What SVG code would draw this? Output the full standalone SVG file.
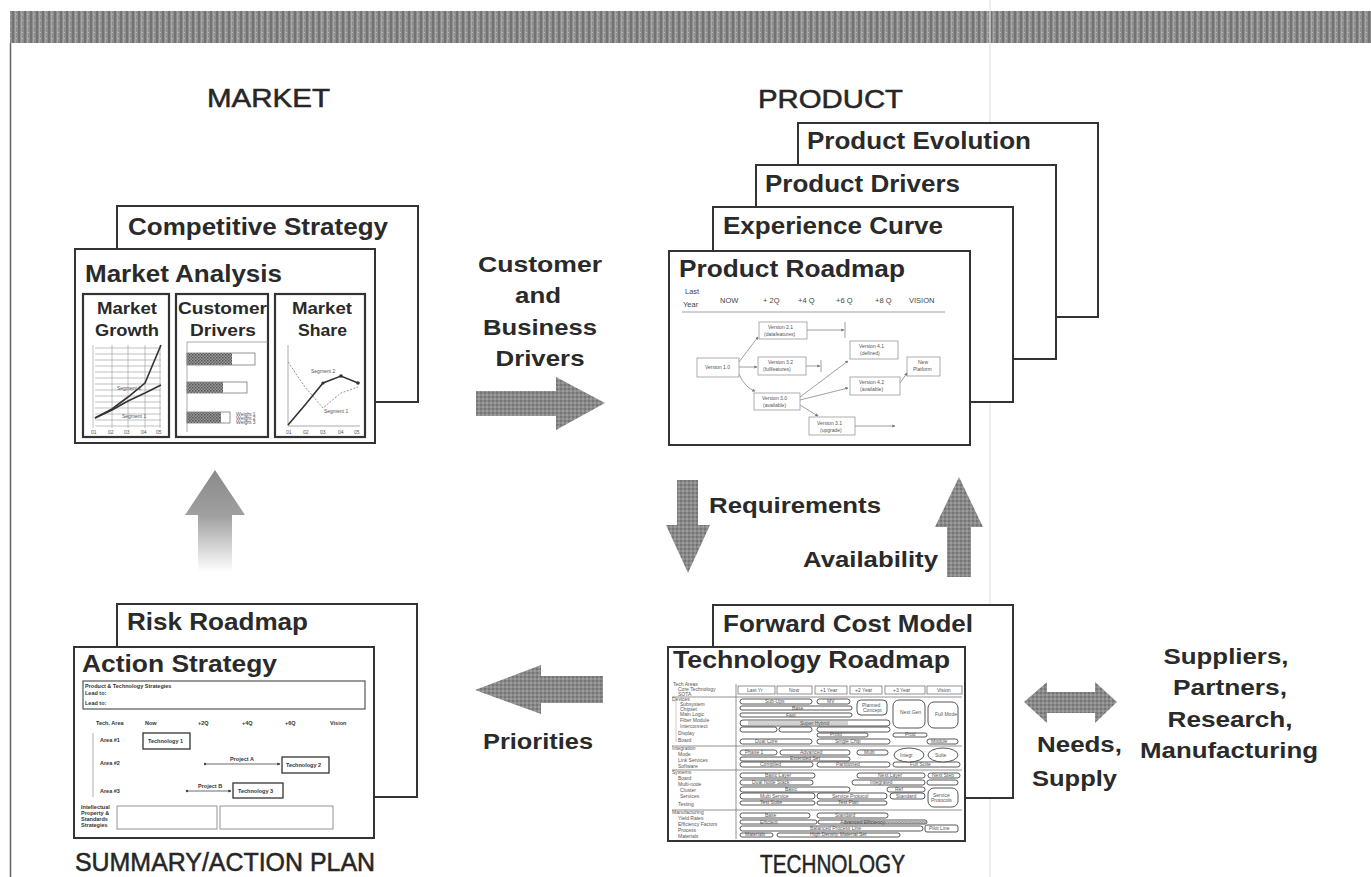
<svg xmlns="http://www.w3.org/2000/svg" width="1371" height="877" viewBox="0 0 1371 877">
  <style>
    .sec{font-family:"Liberation Sans",Arial,sans-serif;font-size:25px;fill:#262626;stroke:#262626;stroke-width:0.5}
    .h{font-family:"Liberation Sans",Arial,sans-serif;font-weight:bold;font-size:24px;fill:#2a2a2a}
    .sub{font-family:"Liberation Sans",Arial,sans-serif;font-weight:bold;font-size:17px;fill:#2a2a2a}
    .lbl{font-family:"Liberation Sans",Arial,sans-serif;font-weight:bold;font-size:22px;fill:#2a2a2a}
    .tiny{font-family:"Liberation Sans",Arial,sans-serif;font-size:5px;fill:#555}
    .sm{font-family:"Liberation Sans",Arial,sans-serif;font-size:7.5px;fill:#444}
    .smb{font-family:"Liberation Sans",Arial,sans-serif;font-size:5.5px;font-weight:bold;fill:#333}
    .card{fill:#fff;stroke:#333;stroke-width:2}
    .inner{fill:#fff;stroke:#333;stroke-width:2.2}
    .thin{fill:none;stroke:#777;stroke-width:0.8}
    .vbox{fill:#fff;stroke:#999;stroke-width:0.8}
    .bar{fill:#fff;stroke:#444;stroke-width:0.9}
    .grid{stroke:#999;stroke-width:0.6}
    .arrow{fill:url(#halftone)}
  </style>
  <defs>
    <pattern id="stripes" width="6" height="6" patternUnits="userSpaceOnUse">
      <rect width="6" height="6" fill="#8d8d8d"/>
      <rect x="0" width="2" height="6" fill="#737373"/>
      <rect x="3" width="1" height="6" fill="#a6a6a6"/>
      <rect x="4" y="2" width="1" height="1" fill="#bcbcbc"/>
    </pattern>
    <pattern id="halftone" width="4" height="4" patternUnits="userSpaceOnUse">
      <rect width="4" height="4" fill="#8a8a8a"/>
      <rect x="0" y="0" width="2" height="2" fill="#757575"/>
      <rect x="2" y="2" width="2" height="2" fill="#9c9c9c"/>
    </pattern>
    <pattern id="checker" width="3" height="3" patternUnits="userSpaceOnUse">
      <rect width="3" height="3" fill="#9a9a9a"/>
      <rect width="1.5" height="1.5" fill="#555"/>
      <rect x="1.5" y="1.5" width="1.5" height="1.5" fill="#666"/>
    </pattern>
    <linearGradient id="fadeUp" x1="0" y1="0" x2="0" y2="1">
      <stop offset="0" stop-color="#8a8a8a"/>
      <stop offset="0.45" stop-color="#a0a0a0"/>
      <stop offset="1" stop-color="#ffffff"/>
    </linearGradient>
    <marker id="tip" viewBox="0 0 6 6" refX="5" refY="3" markerWidth="4" markerHeight="4" orient="auto">
      <path d="M0,0 L6,3 L0,6 z" fill="#777"/>
    </marker>
    <marker id="tipDark" viewBox="0 0 6 6" refX="5" refY="3" markerWidth="4" markerHeight="4" orient="auto">
      <path d="M0,0 L6,3 L0,6 z" fill="#333"/>
    </marker>
  </defs>

  <rect width="1371" height="877" fill="#fff"/>
  <!-- page frame -->
  <rect x="10" y="11" width="1361" height="32" fill="url(#stripes)"/>
  <line x1="10.5" y1="43" x2="10.5" y2="877" stroke="#666" stroke-width="1.5"/>
  <line x1="990" y1="0" x2="990" y2="877" stroke="#e2e2e2" stroke-width="1.2"/>

  <!-- ============ MARKET ============ -->
  <g id="market">
    <text class="sec" x="207" y="107" textLength="123" lengthAdjust="spacingAndGlyphs">MARKET</text>
    <rect class="card" x="117" y="206" width="301" height="196"/>
    <text class="h" x="128" y="235" textLength="260" lengthAdjust="spacingAndGlyphs">Competitive Strategy</text>
    <rect class="card" x="75" y="249" width="300" height="194"/>
    <text class="h" x="85" y="282" font-size="25" textLength="197" lengthAdjust="spacingAndGlyphs">Market Analysis</text>

    <!-- Market Growth -->
    <rect class="inner" x="83" y="294" width="86" height="143"/>
    <text class="sub" x="97" y="314" textLength="60" lengthAdjust="spacingAndGlyphs">Market</text>
    <text class="sub" x="95" y="336" textLength="64" lengthAdjust="spacingAndGlyphs">Growth</text>
    <g class="grid">
      <line x1="93" y1="345" x2="93" y2="428"/>
      <line x1="95" y1="348" x2="161" y2="348"/><line x1="95" y1="354" x2="161" y2="354"/>
      <line x1="95" y1="360" x2="161" y2="360"/><line x1="95" y1="366" x2="161" y2="366"/>
      <line x1="95" y1="372" x2="161" y2="372"/><line x1="95" y1="378" x2="161" y2="378"/>
      <line x1="95" y1="384" x2="161" y2="384"/><line x1="95" y1="390" x2="161" y2="390"/>
      <line x1="95" y1="396" x2="161" y2="396"/><line x1="95" y1="402" x2="161" y2="402"/>
      <line x1="95" y1="408" x2="161" y2="408"/><line x1="95" y1="414" x2="161" y2="414"/>
      <line x1="95" y1="420" x2="161" y2="420"/><line x1="95" y1="426" x2="161" y2="426"/>
      <line x1="112" y1="345" x2="112" y2="428"/><line x1="128" y1="345" x2="128" y2="428"/>
      <line x1="145" y1="345" x2="145" y2="428"/><line x1="160" y1="345" x2="160" y2="428"/>
    </g>
    <polyline points="95,418 112,409 128,397 145,383 161,345" fill="none" stroke="#333" stroke-width="1.6"/>
    <polyline points="95,418 112,410 128,401 145,393 161,385" fill="none" stroke="#333" stroke-width="1.6"/>
    <text class="tiny" x="117" y="390">Segment 2</text>
    <text class="tiny" x="122" y="418">Segment 1</text>
    <text class="tiny" x="91" y="434">01</text><text class="tiny" x="108" y="434">02</text>
    <text class="tiny" x="124" y="434">03</text><text class="tiny" x="141" y="434">04</text>
    <text class="tiny" x="156" y="434">05</text>

    <!-- Customer Drivers -->
    <rect class="inner" x="176" y="294" width="92" height="143"/>
    <text class="sub" x="178" y="314" textLength="89" lengthAdjust="spacingAndGlyphs">Customer</text>
    <text class="sub" x="190" y="336" textLength="66" lengthAdjust="spacingAndGlyphs">Drivers</text>
    <line x1="187" y1="342" x2="268" y2="342" stroke="#888" stroke-width="0.7"/>
    <line x1="187" y1="342" x2="187" y2="432" stroke="#888" stroke-width="0.7"/>
    <rect x="187" y="353" width="68" height="12" fill="#fff" stroke="#666" stroke-width="0.7"/>
    <rect x="187" y="353" width="45" height="12" fill="url(#checker)"/>
    <rect x="187" y="382" width="60" height="11" fill="#fff" stroke="#666" stroke-width="0.7"/>
    <rect x="187" y="382" width="36" height="11" fill="url(#checker)"/>
    <rect x="187" y="412" width="43" height="11" fill="#fff" stroke="#666" stroke-width="0.7"/>
    <rect x="187" y="412" width="34" height="11" fill="url(#checker)"/>
    <text class="tiny" x="236" y="416" font-size="4">Weight 1</text>
    <text class="tiny" x="236" y="420" font-size="4">Weight 2</text>
    <text class="tiny" x="236" y="424" font-size="4">Weight 3</text>

    <!-- Market Share -->
    <rect class="inner" x="275" y="294" width="90" height="143"/>
    <text class="sub" x="292" y="314" textLength="60" lengthAdjust="spacingAndGlyphs">Market</text>
    <text class="sub" x="298" y="336" textLength="49" lengthAdjust="spacingAndGlyphs">Share</text>
    <line x1="288" y1="345" x2="288" y2="426" stroke="#888" stroke-width="0.7"/>
    <line x1="288" y1="426" x2="360" y2="426" stroke="#888" stroke-width="0.7"/>
    <polyline points="288,362 305,387 323,408 341,393 358,387" fill="none" stroke="#888" stroke-width="0.9" stroke-dasharray="2,1.5"/>
    <polyline points="288,425 305,405 323,383 341,376 358,383" fill="none" stroke="#333" stroke-width="1.6"/>
    <circle cx="323" cy="383" r="1.6" fill="#333"/><circle cx="341" cy="376" r="1.8" fill="#333"/>
    <circle cx="358" cy="383" r="1.8" fill="#333"/>
    <text class="tiny" x="311" y="373">Segment 2</text>
    <text class="tiny" x="324" y="413">Segment 1</text>
    <text class="tiny" x="286" y="434">01</text><text class="tiny" x="303" y="434">02</text>
    <text class="tiny" x="320" y="434">03</text><text class="tiny" x="338" y="434">04</text>
    <text class="tiny" x="354" y="434">05</text>
  </g>

  <!-- ============ PRODUCT ============ -->
  <g id="product">
    <text class="sec" x="758" y="108" textLength="145" lengthAdjust="spacingAndGlyphs">PRODUCT</text>
    <rect class="card" x="798" y="123" width="300" height="194"/>
    <text class="h" x="807" y="149" textLength="224" lengthAdjust="spacingAndGlyphs">Product Evolution</text>
    <rect class="card" x="756" y="165" width="300" height="194"/>
    <text class="h" x="765" y="192" textLength="195" lengthAdjust="spacingAndGlyphs">Product Drivers</text>
    <rect class="card" x="713" y="207" width="300" height="195"/>
    <text class="h" x="723" y="234" textLength="220" lengthAdjust="spacingAndGlyphs">Experience Curve</text>
    <rect class="card" x="669" y="251" width="301" height="194"/>
    <text class="h" x="679" y="277" textLength="226" lengthAdjust="spacingAndGlyphs">Product Roadmap</text>

    <!-- roadmap header -->
    <text class="sm" x="685" y="294">Last</text>
    <text class="sm" x="683" y="307">Year</text>
    <text class="sm" x="720" y="303">NOW</text>
    <text class="sm" x="763" y="303">+ 2Q</text>
    <text class="sm" x="798" y="303">+4 Q</text>
    <text class="sm" x="836" y="303">+6 Q</text>
    <text class="sm" x="875" y="303">+8 Q</text>
    <text class="sm" x="909" y="303">VISION</text>
    <line x1="682" y1="312" x2="945" y2="312" stroke="#888" stroke-width="0.8"/>

    <!-- roadmap version boxes -->
    <rect class="vbox" x="759" y="322" width="48" height="17"/>
    <text class="tiny" x="768" y="329">Version 2.1</text><text class="tiny" x="764" y="336">(datafeatures)</text>
    <rect class="vbox" x="697" y="358" width="42" height="19"/>
    <text class="tiny" x="705" y="369">Version 1.0</text>
    <rect class="vbox" x="758" y="357" width="48" height="18"/>
    <text class="tiny" x="768" y="364">Version 3.2</text><text class="tiny" x="763" y="371">(fullfeatures)</text>
    <rect class="vbox" x="754" y="393" width="46" height="17"/>
    <text class="tiny" x="762" y="400">Version 3.0</text><text class="tiny" x="763" y="407">(available)</text>
    <rect class="vbox" x="809" y="417" width="46" height="18"/>
    <text class="tiny" x="817" y="425">Version 3.1</text><text class="tiny" x="820" y="432">(upgrade)</text>
    <rect class="vbox" x="850" y="341" width="48" height="18"/>
    <text class="tiny" x="859" y="348">Version 4.1</text><text class="tiny" x="860" y="355">(defined)</text>
    <rect class="vbox" x="850" y="377" width="50" height="18"/>
    <text class="tiny" x="859" y="384">Version 4.2</text><text class="tiny" x="860" y="391">(available)</text>
    <rect class="vbox" x="907" y="357" width="33" height="19"/>
    <text class="tiny" x="918" y="364">New</text><text class="tiny" x="913" y="371">Platform</text>
  </g>

  <!-- ============ TECHNOLOGY ============ -->
  <g id="technology">
    <rect class="card" x="713" y="605" width="300" height="193"/>
    <text class="h" x="723" y="632" textLength="250" lengthAdjust="spacingAndGlyphs">Forward Cost Model</text>
    <rect class="card" x="668" y="647" width="297" height="194"/>
    <text class="h" x="673" y="668" font-size="25" textLength="277" lengthAdjust="spacingAndGlyphs">Technology Roadmap</text>

    <!-- table header -->
    <g class="thin">
      <rect x="738" y="686" width="37" height="8"/><rect x="777" y="686" width="35" height="8"/>
      <rect x="815" y="686" width="32" height="8"/><rect x="850" y="686" width="32" height="8"/>
      <rect x="885" y="686" width="40" height="8"/><rect x="927" y="686" width="35" height="8"/>
      <line x1="736" y1="684" x2="736" y2="839"/>
      <line x1="672" y1="697" x2="962" y2="697"/>
      <line x1="672" y1="746" x2="962" y2="746"/>
      <line x1="672" y1="770" x2="962" y2="770"/>
      <line x1="672" y1="810" x2="962" y2="810"/>
    </g>
    <text class="tiny" x="747" y="692">Last Yr</text><text class="tiny" x="789" y="692">Now</text>
    <text class="tiny" x="820" y="692">+1 Year</text><text class="tiny" x="855" y="692">+2 Year</text>
    <text class="tiny" x="893" y="692">+3 Year</text><text class="tiny" x="937" y="692">Vision</text>

    <!-- left labels -->
    <g class="tiny" font-size="4.5">
      <text x="673" y="686">Tech Areas</text><text x="678" y="691">Core Technology</text>
      <text x="678" y="696">SOTA</text><text x="672" y="701">Devices</text>
      <text x="680" y="706">Subsystem</text><text x="680" y="711">Chipset</text>
      <text x="680" y="716">Main Logic</text><text x="680" y="722">Fiber Module</text>
      <text x="680" y="728">Interconnect</text><text x="678" y="735">Display</text>
      <text x="678" y="742">Board</text><text x="672" y="750">Integration</text>
      <text x="678" y="756">Mode</text><text x="678" y="762">Link Services</text>
      <text x="678" y="768">Software</text><text x="672" y="774">Systems</text>
      <text x="678" y="780">Board</text><text x="678" y="786">Multi-node</text>
      <text x="680" y="792">Cluster</text><text x="680" y="798">Services</text>
      <text x="678" y="806">Testing</text><text x="672" y="814">Manufacturing</text>
      <text x="678" y="820">Yield Rates</text><text x="678" y="826">Efficiency Factors</text>
      <text x="678" y="832">Process</text><text x="678" y="838">Materials</text>
    </g>
    <line x1="676" y1="700" x2="676" y2="742" stroke="#aaa" stroke-width="0.6"/>

    <!-- roadmap bars -->
    <g class="bar">
      <rect x="740" y="699" width="72" height="5" rx="2.5"/><rect x="817" y="699" width="33" height="5" rx="2.5"/>
      <rect x="740" y="706" width="112" height="4" rx="2"/>
      <rect x="740" y="713" width="112" height="4" rx="2"/>
      <rect x="740" y="720" width="150" height="6" rx="3"/>
      <rect x="740" y="727" width="37" height="5" rx="2.5"/><rect x="779" y="727" width="33" height="5" rx="2.5"/><rect x="817" y="727" width="73" height="5" rx="2.5"/>
      <rect x="817" y="733" width="51" height="4" rx="2"/><rect x="893" y="733" width="34" height="4" rx="2"/>
      <rect x="740" y="739" width="72" height="5" rx="2.5"/><rect x="817" y="739" width="73" height="5" rx="2.5"/><rect x="927" y="739" width="31" height="5" rx="2.5"/>
      <rect x="740" y="750" width="37" height="5" rx="2.5"/><rect x="780" y="750" width="70" height="5" rx="2.5"/><rect x="857" y="750" width="31" height="5" rx="2.5"/>
      <rect x="740" y="757" width="110" height="4" rx="2"/>
      <rect x="740" y="762" width="73" height="5" rx="2.5"/><rect x="817" y="762" width="73" height="5" rx="2.5"/><rect x="893" y="762" width="67" height="5" rx="2.5"/>
      <rect x="740" y="773" width="75" height="5" rx="2.5"/><rect x="857" y="773" width="68" height="5" rx="2.5"/><rect x="928" y="773" width="32" height="5" rx="2.5"/>
      <rect x="740" y="780" width="73" height="5" rx="2.5"/><rect x="852" y="780" width="73" height="5" rx="2.5"/><rect x="927" y="780" width="31" height="5" rx="2.5"/>
      <rect x="740" y="787" width="110" height="5" rx="2.5"/><rect x="887" y="787" width="38" height="5" rx="2.5"/>
      <rect x="740" y="793" width="75" height="6" rx="3"/><rect x="817" y="793" width="70" height="6" rx="3"/><rect x="890" y="793" width="35" height="6" rx="3"/>
      <rect x="740" y="801" width="75" height="4" rx="2"/><rect x="817" y="801" width="70" height="4" rx="2"/>
      <rect x="740" y="813" width="70" height="5" rx="2.5"/><rect x="817" y="813" width="71" height="5" rx="2.5"/>
      <rect x="740" y="820" width="77" height="4" rx="2"/><rect x="818" y="820" width="109" height="4" rx="2"/>
      <rect x="740" y="826" width="183" height="5" rx="2.5"/><rect x="925" y="825" width="33" height="7" rx="2"/>
      <rect x="740" y="833" width="33" height="4" rx="2"/><rect x="777" y="833" width="123" height="4" rx="2"/>
      <!-- rounded cells in the vision columns -->
      <rect x="857" y="700" width="30" height="15" rx="4"/>
      <rect x="893" y="700" width="32" height="28" rx="6"/>
      <rect x="928" y="702" width="30" height="26" rx="6"/>
      <ellipse cx="909" cy="755" rx="15" ry="7"/>
      <ellipse cx="943" cy="755" rx="15" ry="7"/>
      <rect x="928" y="788" width="30" height="19" rx="6"/>
    </g>
    <rect x="844" y="821" width="83" height="3" fill="url(#checker)" opacity="0.6"/>
    <rect x="748" y="721" width="100" height="4" fill="url(#checker)" opacity="0.35"/>
    <g class="tiny" font-size="4">
      <text x="765" y="703">Sub-Ups</text><text x="827" y="703">MV</text>
      <text x="792" y="710">Base</text><text x="786" y="717">Fast</text>
      <text x="800" y="725">Super Hybrid</text>
      <text x="862" y="707">Planned</text><text x="863" y="712">Concept</text>
      <text x="900" y="714">Next Gen</text><text x="935" y="716">Full Mode</text>
      <text x="830" y="736">Proto</text><text x="905" y="736">Prod</text>
      <text x="755" y="743">Dual Core</text><text x="835" y="743">Single Chip</text><text x="931" y="743">Module</text>
      <text x="745" y="754">Phase 1</text><text x="800" y="754">Advanced</text><text x="864" y="754">Multi</text>
      <text x="900" y="757">Integr.</text><text x="935" y="757">Suite</text>
      <text x="790" y="760">Extended Set</text>
      <text x="760" y="766">Compiled</text><text x="836" y="766">Partitioned</text><text x="910" y="766">Full Suite</text>
      <text x="765" y="777">Basic Layer</text><text x="878" y="777">Next Layer</text><text x="932" y="777">Next Step</text>
      <text x="752" y="784">Dual Node Stack</text><text x="870" y="784">Integrated</text>
      <text x="785" y="791">Basic</text><text x="895" y="791">Ref</text>
      <text x="760" y="798">Multi Service</text><text x="832" y="798">Service Protocol</text><text x="896" y="798">Standard</text>
      <text x="933" y="797">Service</text><text x="931" y="802">Protocols</text>
      <text x="760" y="804">Test Suite</text><text x="838" y="804">Test Plan</text>
      <text x="765" y="817">Base</text><text x="835" y="817">Standard</text>
      <text x="760" y="824">Efficient</text><text x="840" y="824">Advanced Efficiency</text>
      <text x="810" y="830">Balanced Process Line</text><text x="929" y="830">Pilot Line</text>
      <text x="745" y="836">Materials</text><text x="810" y="836">High Density Material Set</text>
    </g>
    <text class="sec" x="760" y="873" textLength="145" lengthAdjust="spacingAndGlyphs">TECHNOLOGY</text>
  </g>

  <!-- ============ SUMMARY / ACTION PLAN ============ -->
  <g id="summary">
    <rect class="card" x="117" y="604" width="300" height="193"/>
    <text class="h" x="127" y="630" textLength="181" lengthAdjust="spacingAndGlyphs">Risk Roadmap</text>
    <rect class="card" x="74" y="647" width="300" height="191"/>
    <text class="h" x="82" y="672" font-size="25" textLength="195" lengthAdjust="spacingAndGlyphs">Action Strategy</text>

    <rect x="83" y="681" width="282" height="28" fill="#fff" stroke="#555" stroke-width="1.2"/>
    <text class="smb" x="85" y="688">Product &amp; Technology Strategies</text>
    <text class="smb" x="85" y="695">Lead to:</text>
    <text class="smb" x="85" y="705">Lead to:</text>

    <text class="smb" x="96" y="725">Tech. Area</text>
    <text class="smb" x="145" y="725">Now</text>
    <text class="smb" x="198" y="725">+2Q</text>
    <text class="smb" x="242" y="725">+4Q</text>
    <text class="smb" x="285" y="725">+6Q</text>
    <text class="smb" x="330" y="725">Vision</text>
    <line x1="93" y1="733" x2="93" y2="797" stroke="#999" stroke-width="0.8"/>

    <text class="smb" x="100" y="742">Area #1</text>
    <rect x="143" y="733" width="47" height="16" fill="#fff" stroke="#333" stroke-width="1.3"/>
    <text class="smb" x="148" y="743">Technology 1</text>

    <text class="smb" x="100" y="765">Area #2</text>
    <line x1="205" y1="764" x2="280" y2="764" stroke="#444" stroke-width="0.8" marker-end="url(#tipDark)"/>
    <circle cx="205" cy="764" r="1.2" fill="#444"/>
    <text class="smb" x="230" y="761">Project A</text>
    <rect x="282" y="757" width="47" height="16" fill="#fff" stroke="#333" stroke-width="1.3"/>
    <text class="smb" x="286" y="767">Technology 2</text>

    <text class="smb" x="100" y="793">Area #3</text>
    <line x1="187" y1="791" x2="231" y2="791" stroke="#444" stroke-width="0.8" marker-end="url(#tipDark)"/>
    <circle cx="187" cy="791" r="1.2" fill="#444"/>
    <text class="smb" x="198" y="788">Project B</text>
    <rect x="233" y="783" width="50" height="15" fill="#fff" stroke="#333" stroke-width="1.3"/>
    <text class="smb" x="238" y="793">Technology 3</text>

    <text class="smb" x="81" y="809">Intellectual</text>
    <text class="smb" x="81" y="815">Property &amp;</text>
    <text class="smb" x="81" y="821">Standards</text>
    <text class="smb" x="81" y="827">Strategies</text>
    <rect x="117" y="806" width="100" height="23" fill="#fff" stroke="#888" stroke-width="0.9"/>
    <rect x="220" y="806" width="113" height="23" fill="#fff" stroke="#888" stroke-width="0.9"/>

    <text class="sec" x="75" y="871" textLength="300" lengthAdjust="spacingAndGlyphs">SUMMARY/ACTION PLAN</text>
  </g>

  <!-- ============ EXTERNAL PARTNERS ============ -->
  <g id="partners">
    <text class="lbl" x="1226" y="664" text-anchor="middle" textLength="125" lengthAdjust="spacingAndGlyphs">Suppliers,</text>
    <text class="lbl" x="1230" y="695" text-anchor="middle" textLength="114" lengthAdjust="spacingAndGlyphs">Partners,</text>
    <text class="lbl" x="1230" y="727" text-anchor="middle" textLength="125" lengthAdjust="spacingAndGlyphs">Research,</text>
    <text class="lbl" x="1229" y="758" text-anchor="middle" textLength="178" lengthAdjust="spacingAndGlyphs">Manufacturing</text>
  </g>

  <!-- ============ CONNECTORS ============ -->
  <g id="connectors">
    <!-- product roadmap links -->
    <g fill="none" stroke="#888" stroke-width="0.8">
      <line x1="739" y1="362" x2="758" y2="337" marker-end="url(#tip)"/>
      <line x1="739" y1="367" x2="757" y2="367" marker-end="url(#tip)"/>
      <path d="M739,374 Q745,388 755,391" marker-end="url(#tip)"/>
      <line x1="807" y1="330" x2="844" y2="330" marker-end="url(#tip)"/>
      <line x1="845" y1="322" x2="845" y2="338"/>
      <line x1="806" y1="366" x2="820" y2="366" marker-end="url(#tip)"/>
      <line x1="821" y1="360" x2="821" y2="372"/>
      <line x1="800" y1="397" x2="848" y2="361" marker-end="url(#tip)"/>
      <line x1="800" y1="400" x2="848" y2="388" marker-end="url(#tip)"/>
      <line x1="800" y1="405" x2="818" y2="416" marker-end="url(#tip)"/>
      <line x1="900" y1="383" x2="907" y2="373" marker-end="url(#tip)"/>
      <line x1="855" y1="426" x2="895" y2="426" marker-end="url(#tip)"/>
    </g>

    <!-- Customer and Business Drivers: market to product -->
    <text class="lbl" x="540" y="272" text-anchor="middle" textLength="124" lengthAdjust="spacingAndGlyphs">Customer</text>
    <text class="lbl" x="538" y="303" text-anchor="middle" textLength="46" lengthAdjust="spacingAndGlyphs">and</text>
    <text class="lbl" x="540" y="335" text-anchor="middle" textLength="114" lengthAdjust="spacingAndGlyphs">Business</text>
    <text class="lbl" x="540" y="366" text-anchor="middle" textLength="89" lengthAdjust="spacingAndGlyphs">Drivers</text>
    <path class="arrow" d="M476,391 L556,391 L556,377 L605,403 L556,430 L556,416 L476,416 z"/>

    <!-- Requirements: product to technology -->
    <path class="arrow" d="M677,480 L698,480 L698,525 L710,525 L688,573 L666,525 L677,525 z"/>
    <text class="lbl" x="709" y="513" textLength="172" lengthAdjust="spacingAndGlyphs">Requirements</text>

    <!-- Availability: technology to product -->
    <path class="arrow" d="M959,477 L983,527 L971,527 L971,577 L947,577 L947,527 L935,527 z"/>
    <text class="lbl" x="803" y="567" textLength="135" lengthAdjust="spacingAndGlyphs">Availability</text>

    <!-- Priorities: technology to summary -->
    <path class="arrow" d="M603,676 L541,676 L541,665 L475,690 L541,714 L541,703 L603,703 z"/>
    <text class="lbl" x="538" y="749" text-anchor="middle" textLength="110" lengthAdjust="spacingAndGlyphs">Priorities</text>

    <!-- Needs, Supply: technology to partners -->
    <path class="arrow" d="M1024,702 L1047,682 L1047,692 L1095,692 L1095,682 L1117,702 L1095,723 L1095,713 L1047,713 L1047,723 z"/>
    <text class="lbl" x="1037" y="752" textLength="85" lengthAdjust="spacingAndGlyphs">Needs,</text>
    <text class="lbl" x="1032" y="786" textLength="85" lengthAdjust="spacingAndGlyphs">Supply</text>

    <!-- feedback from summary to market -->
    <path d="M215,470 L245,515 L232,515 L232,572 L198,572 L198,515 L185,515 z" fill="url(#fadeUp)"/>
  </g>
</svg>
